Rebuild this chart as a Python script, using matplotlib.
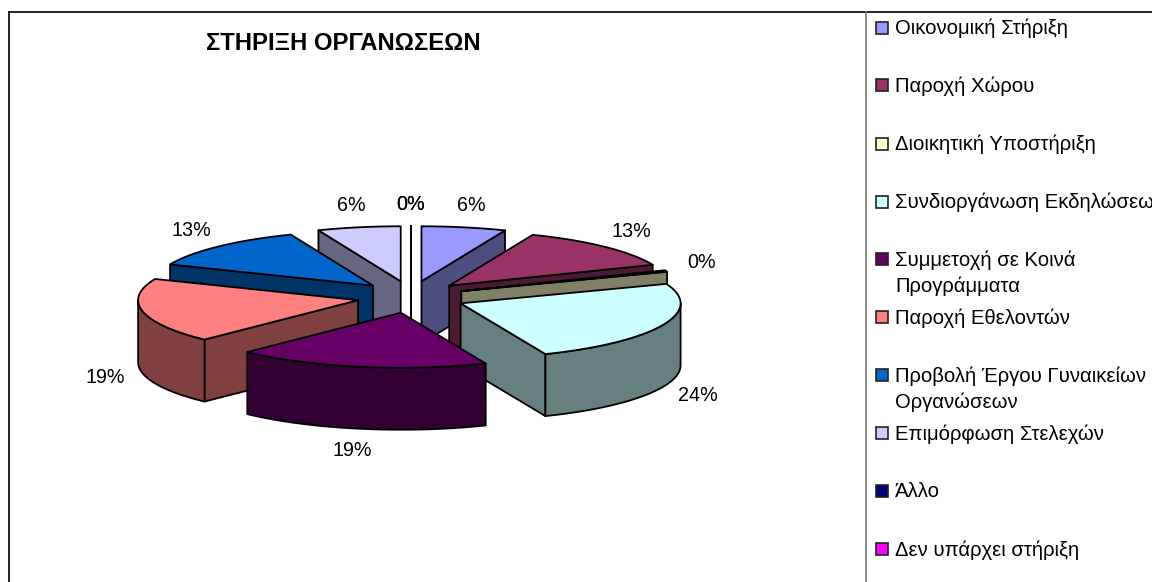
import numpy as np
import matplotlib
matplotlib.use("Agg")
import matplotlib.pyplot as plt
from matplotlib.patches import Polygon, Rectangle
from matplotlib.colors import to_rgb

plt.rcParams['font.family'] = ['Liberation Sans', 'DejaVu Sans']

# 1. DATA

categories = [
    "Οικονομική Στήριξη",
    "Παροχή Χώρου",
    "Διοικητική Υποστήριξη",
    "Συνδιοργάνωση Εκδηλώσεων",
    "Συμμετοχή σε Κοινά\nΠρογράμματα",
    "Παροχή Εθελοντών",
    "Προβολή Έργου Γυναικείων\nΟργανώσεων",
    "Επιμόρφωση Στελεχών",
    "Άλλο",
    "Δεν υπάρχει στήριξη",
]
values = [6.2, 12.6, 0.45, 24.45, 18.6, 19.0, 12.6, 6.1, 0.0, 0.0]
colors = ["#9999FF", "#993366", "#FFFFCC", "#CCFFFF", "#660066",
          "#FF8080", "#0066CC", "#CCCCFF", "#000080", "#FF00FF"]
title = "ΣΤΗΡΙΞΗ ΟΡΓΑΝΩΣΕΩΝ"

# 2. LAYOUT (pixels, the axes covers the whole figure)

CX, CY = 411, 297
RX, RY = 220, 55
DEPTH = 62
EXPLODE_X, EXPLODE_Y = 54, 16
LABEL_RX, LABEL_RY = 312, 93
LEGEND_ROWS = [28, 85, 144, 202, 259, 317, 375, 433, 491, 549]
# back slices first, front slice last
DRAW_ORDER = [7, 8, 9, 0, 1, 2, 6, 5, 3, 4]

fig = plt.figure(figsize=(11.52, 5.82), dpi=100)
ax = fig.add_axes([0, 0, 1, 1])
ax.set_xlim(0, 1152)
ax.set_ylim(582, 0)
ax.axis("off")

# 3. SLICES

edges = np.cumsum([0] + values) / sum(values) * 2 * np.pi


def shade(color):
    return tuple(c * 0.5 for c in to_rgb(color))


def draw_slice(i, z):
    t1, t2 = edges[i], edges[i + 1]
    mid = (t1 + t2) / 2
    ox = CX + EXPLODE_X * np.sin(mid)
    oy = CY - EXPLODE_Y * np.cos(mid)
    t = np.linspace(t1, t2, 60)
    arc = np.column_stack([ox + RX * np.sin(t), oy - RY * np.cos(t)])
    apex = np.array([ox, oy])
    down = np.array([0, DEPTH])
    side = shade(colors[i])
    style = dict(edgecolor="black", linewidth=1.3, joinstyle="round", zorder=z)

    # cut faces, only the ones turned to the viewer
    if t1 >= np.pi or t1 == t2:
        ax.add_patch(Polygon([apex, arc[0], arc[0] + down, apex + down],
                             facecolor=side, **style))
    if t2 <= np.pi and t1 != t2:
        ax.add_patch(Polygon([apex, arc[-1], arc[-1] + down, apex + down],
                             facecolor=side, **style))

    # outer rim, front half only
    front = arc[(t >= np.pi / 2) & (t <= 3 * np.pi / 2)]
    if len(front) > 1:
        ax.add_patch(Polygon(np.vstack([front, (front + down)[::-1]]),
                             facecolor=side, **style))

    ax.add_patch(Polygon(np.vstack([apex, arc]), facecolor=colors[i], **style))


# painter's order, later slices cover earlier ones
for n, i in enumerate(DRAW_ORDER):
    draw_slice(i, 2 + n * 0.1)

# 4. PERCENT LABELS

for i, v in enumerate(values):
    mid = (edges[i] + edges[i + 1]) / 2
    x = CX + LABEL_RX * np.sin(mid)
    y = CY - LABEL_RY * np.cos(mid)
    if np.cos(mid) < 0:
        y += DEPTH
    ax.text(x, y, f"{v:.0f}%", ha="center", va="center", fontsize=14.2,
            color="black", zorder=5)

ax.text(343, 43, title, ha="center", va="center", fontsize=17.2,
        fontweight="bold", color="black")

# 5. LEGEND

for name, color, row in zip(categories, colors, LEGEND_ROWS):
    ax.add_patch(Rectangle((876, row - 6), 12, 12, facecolor=color,
                           edgecolor="#222222", linewidth=1.2, zorder=3))
    ax.text(895, row - 9, name, ha="left", va="top", fontsize=14.6,
            linespacing=1.45, color="black", clip_on=False)

# 6. FRAME

ax.plot([8, 1152], [11.5, 11.5], color="black", linewidth=1.2,
        solid_capstyle="butt")
ax.plot([8.5, 8.5], [11, 582], color="black", linewidth=1.2,
        solid_capstyle="butt")
ax.plot([866, 866], [11, 582], color="#777777", linewidth=1.2,
        solid_capstyle="butt")

fig.savefig("out.png", dpi=100)
